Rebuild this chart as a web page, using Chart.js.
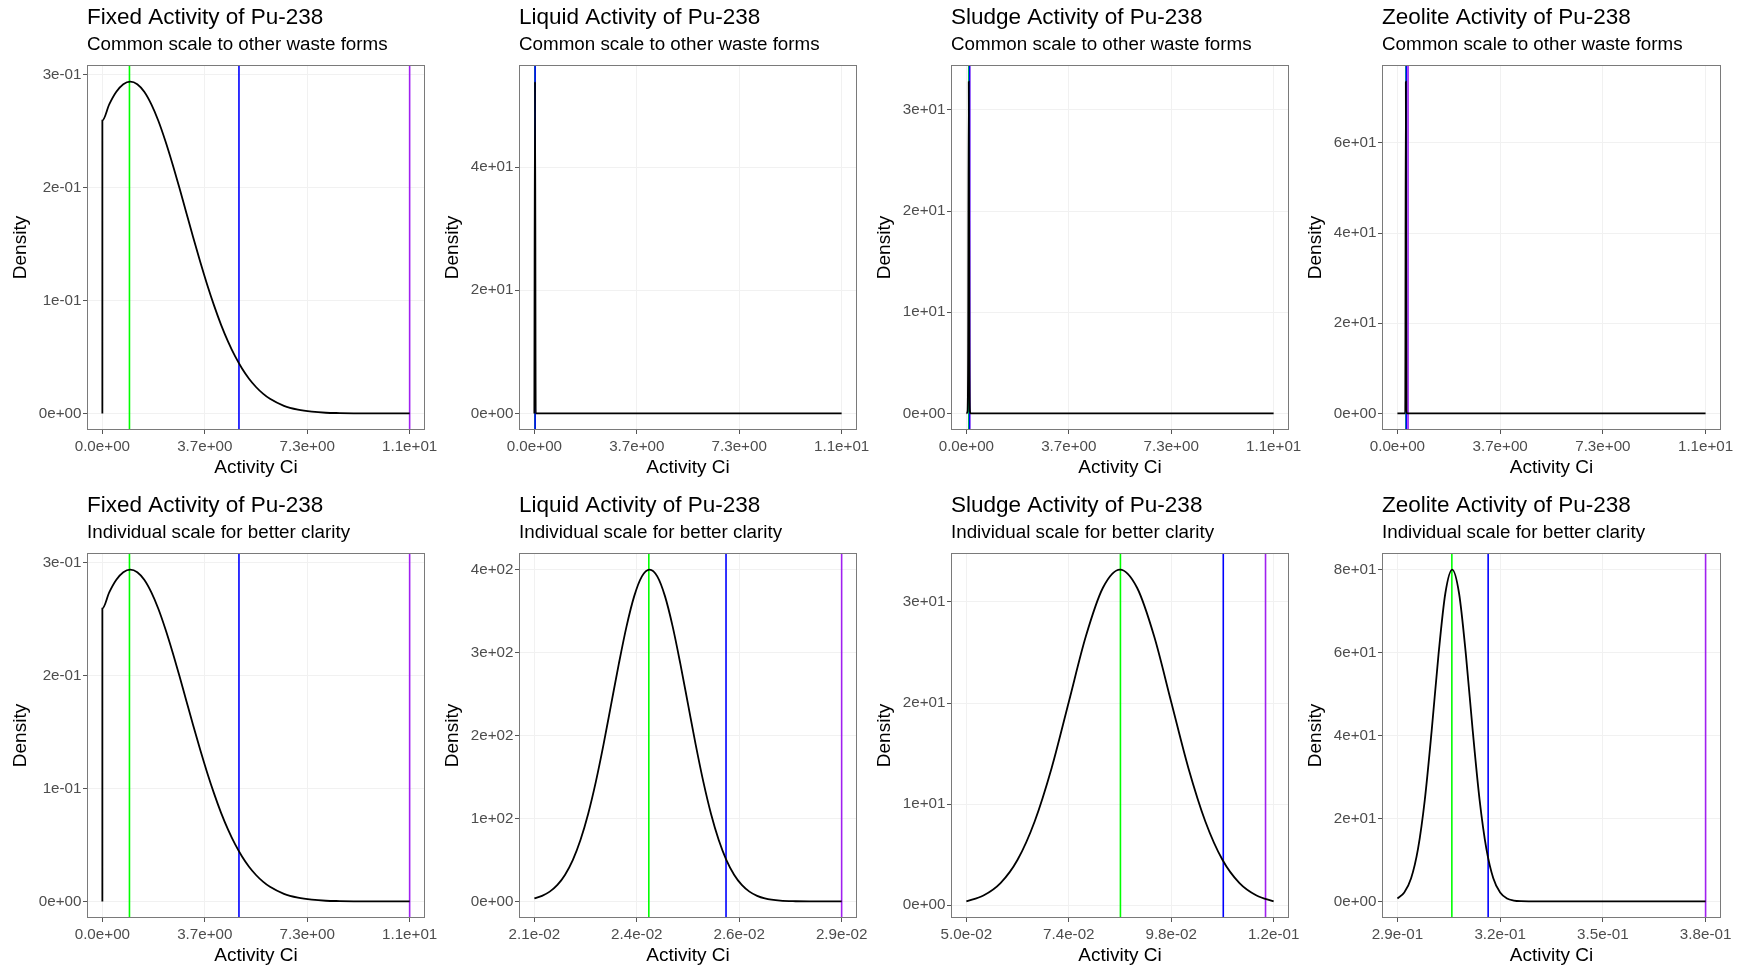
<!DOCTYPE html>
<html>
<head>
<meta charset="utf-8">
<script src="https://cdn.jsdelivr.net/npm/chart.js@4.4.0/dist/chart.umd.min.js"></script>
<style>
html,body{margin:0;padding:0;background:#ffffff;width:1738px;height:967px;overflow:hidden;}
canvas{position:absolute;}
</style>
</head>
<body>
<script>
// ---------------- data ----------------
const SUB_COMMON = 'Common scale to other waste forms';
const SUB_INDIV = 'Individual scale for better clarity';
const titles = ['Fixed Activity of Pu-238','Liquid Activity of Pu-238','Sludge Activity of Pu-238','Zeolite Activity of Pu-238'];

// Fixed waste form density (same curve on both scales)
const fixedX = [0, 0, 0.25, 0.5, 0.75, 1, 1.25, 1.5, 1.75, 2, 2.25, 2.5, 2.75, 3, 3.25, 3.5, 3.75, 4, 4.25, 4.5, 4.75, 5, 5.25, 5.5, 5.75, 6, 6.5, 7, 7.5, 8, 8.5, 9, 10, 11];
const fixedY = [0, 0.2595, 0.274, 0.285, 0.2917, 0.294, 0.2917, 0.285, 0.274, 0.2595, 0.2418, 0.2219, 0.2005, 0.1783, 0.1561, 0.1346, 0.1143, 0.0955, 0.0785, 0.0636, 0.0507, 0.0398, 0.0307, 0.0234, 0.0175, 0.0129, 0.0067, 0.0033, 0.0015, 0.0006, 0.0003, 0.0001, 0, 0];

// Individual-scale densities
const liquidX = [0.0210, 0.0212, 0.0214, 0.0216, 0.0218, 0.0220, 0.0222, 0.0224, 0.0226, 0.0228, 0.0230, 0.0232, 0.0234, 0.0236, 0.0238, 0.0240, 0.0242, 0.0244, 0.0246, 0.0248, 0.0250, 0.0252, 0.0254, 0.0256, 0.0258, 0.0260, 0.0262, 0.0264, 0.0266, 0.0268, 0.0270, 0.0274, 0.0278, 0.0282, 0.0290];
const liquidY = [3.7, 6.7, 11.8, 19.9, 32.2, 49.8, 74.0, 105.4, 144.1, 189.0, 237.8, 286.6, 331.6, 368.0, 391.8, 400, 391.8, 368.0, 331.6, 286.6, 237.8, 189.0, 144.1, 105.4, 74.0, 49.8, 32.2, 19.9, 11.8, 6.7, 3.7, 1.0, 0.2, 0.03, 0];

const sludgeX = [0.050, 0.054, 0.058, 0.062, 0.066, 0.070, 0.074, 0.078, 0.082, 0.086, 0.090, 0.094, 0.098, 0.102, 0.106, 0.110, 0.114, 0.118, 0.122];
const sludgeY = [0.37, 0.95, 2.18, 4.49, 8.28, 13.6, 20.1, 26.6, 31.4, 33.2, 31.4, 26.6, 20.1, 13.6, 8.28, 4.49, 2.18, 0.95, 0.37];

const zeoliteX = [0.290, 0.292, 0.294, 0.296, 0.298, 0.300, 0.302, 0.304, 0.306, 0.308, 0.310, 0.312, 0.314, 0.316, 0.318, 0.320, 0.322, 0.324, 0.326, 0.330, 0.340, 0.350, 0.360, 0.370, 0.380];
const zeoliteY = [0.70, 2.13, 5.58, 12.6, 24.5, 41.1, 59.5, 74.3, 80, 74.3, 59.5, 41.1, 24.5, 12.6, 5.58, 2.13, 0.70, 0.2, 0.05, 0.01, 0, 0, 0, 0, 0];

// Common-scale densities (evaluated on the shared 0..11 grid)
const liquidCommonX = [0, 0.024, 0.048, 11];
const liquidCommonY = [0, 53.9, 0, 0];
const sludgeCommonX = [0, 0.043, 0.0645, 0.086, 0.1075, 0.129, 0.1505, 11];
const sludgeCommonY = [0, 0.2, 6.6, 32.8, 6.9, 0.2, 0, 0];
const zeoliteCommonX = [0, 0.2795, 0.301, 0.3225, 0.344, 11];
const zeoliteCommonY = [0, 0.02, 73.6, 0.7, 0, 0];

// Reference lines (green, blue, purple)
const fixedLines = [0.97, 4.89, 11.0];
const liquidLines = [0.02398, 0.02599, 0.0290];
const sludgeLines = [0.0861, 0.1102, 0.1201];
const zeoliteLines = [0.3059, 0.3165, 0.3800];

// Tick values and labels
const commonXTicks = [0, 3.6667, 7.3333, 11];
const commonXLabels = ['0.0e+00', '3.7e+00', '7.3e+00', '1.1e+01'];
const fixedYTicks = [0, 0.1, 0.2, 0.3];
const fixedYLabels = ['0e+00', '1e-01', '2e-01', '3e-01'];
const liquidCommonYTicks = [0, 20, 40];
const liquidCommonYLabels = ['0e+00', '2e+01', '4e+01'];
const sludgeYTicks = [0, 10, 20, 30];
const sludgeYLabels = ['0e+00', '1e+01', '2e+01', '3e+01'];
const zeoliteCommonYTicks = [0, 20, 40, 60];
const zeoliteCommonYLabels = ['0e+00', '2e+01', '4e+01', '6e+01'];
const liquidXTicks = [0.021, 0.023667, 0.026333, 0.029];
const liquidXLabels = ['2.1e-02', '2.4e-02', '2.6e-02', '2.9e-02'];
const liquidYTicks = [0, 100, 200, 300, 400];
const liquidYLabels = ['0e+00', '1e+02', '2e+02', '3e+02', '4e+02'];
const sludgeXTicks = [0.05, 0.074, 0.098, 0.122];
const sludgeXLabels = ['5.0e-02', '7.4e-02', '9.8e-02', '1.2e-01'];
const zeoliteXTicks = [0.29, 0.32, 0.35, 0.38];
const zeoliteXLabels = ['2.9e-01', '3.2e-01', '3.5e-01', '3.8e-01'];
const zeoliteYTicks = [0, 20, 40, 60, 80];
const zeoliteYLabels = ['0e+00', '2e+01', '4e+01', '6e+01', '8e+01'];

// ---------------- layout / style ----------------
const FONT = '"Liberation Sans", Arial, Helvetica, sans-serif';
const LINE_COLORS = ['#00ff00', '#0000ff', '#a020f0'];
const DRAW_ORDER = [1, 0, 2]; // blue drawn above green, green above purple
const PLOT_L = [87, 519, 951, 1382];
const PLOT_R = [425, 857, 1289, 1721];
const PLOT_T = [65, 553];
const PLOT_B = [430, 918];
const Y_AXIS_W = 85, X_AXIS_H = 50, HEAD_H = 65, PAD_R = 40;

const panels = [
  {col:0,row:0,sub:SUB_COMMON,xs:fixedX,ys:fixedY,lines:fixedLines,xt:commonXTicks,xl:commonXLabels,yt:fixedYTicks,yl:fixedYLabels},
  {col:1,row:0,sub:SUB_COMMON,xs:liquidCommonX,ys:liquidCommonY,lines:liquidLines,xt:commonXTicks,xl:commonXLabels,yt:liquidCommonYTicks,yl:liquidCommonYLabels},
  {col:2,row:0,sub:SUB_COMMON,xs:sludgeCommonX,ys:sludgeCommonY,lines:sludgeLines,xt:commonXTicks,xl:commonXLabels,yt:sludgeYTicks,yl:sludgeYLabels},
  {col:3,row:0,sub:SUB_COMMON,xs:zeoliteCommonX,ys:zeoliteCommonY,lines:zeoliteLines,xt:commonXTicks,xl:commonXLabels,yt:zeoliteCommonYTicks,yl:zeoliteCommonYLabels},
  {col:0,row:1,sub:SUB_INDIV,xs:fixedX,ys:fixedY,lines:fixedLines,xt:commonXTicks,xl:commonXLabels,yt:fixedYTicks,yl:fixedYLabels},
  {col:1,row:1,sub:SUB_INDIV,xs:liquidX,ys:liquidY,lines:liquidLines,xt:liquidXTicks,xl:liquidXLabels,yt:liquidYTicks,yl:liquidYLabels},
  {col:2,row:1,sub:SUB_INDIV,xs:sludgeX,ys:sludgeY,lines:sludgeLines,xt:sludgeXTicks,xl:sludgeXLabels,yt:sludgeYTicks,yl:sludgeYLabels},
  {col:3,row:1,sub:SUB_INDIV,xs:zeoliteX,ys:zeoliteY,lines:zeoliteLines,xt:zeoliteXTicks,xl:zeoliteXLabels,yt:zeoliteYTicks,yl:zeoliteYLabels}
];

const framePlugin = {
  id: 'frame',
  afterDatasetsDraw(chart) {
    const a = chart.chartArea, ctx = chart.ctx;
    ctx.save();
    ctx.strokeStyle = '#7a7a7a';
    ctx.lineWidth = 1;
    ctx.strokeRect(Math.round(a.left) + 0.5, Math.round(a.top) + 0.5, Math.round(a.right - a.left) - 1, Math.round(a.bottom - a.top) - 1);
    ctx.restore();
  }
};

function expanded(vals) {
  const lo = Math.min(...vals), hi = Math.max(...vals);
  const e = (hi - lo) * 0.05;
  return [lo - e, hi + e];
}

panels.forEach(p => {
  const cl = PLOT_L[p.col] - Y_AXIS_W;
  const ct = PLOT_T[p.row] - HEAD_H;
  const cw = PLOT_R[p.col] - cl + PAD_R;
  const ch = PLOT_B[p.row] + X_AXIS_H - ct;
  const cv = document.createElement('canvas');
  cv.width = cw; cv.height = ch;
  cv.style.left = cl + 'px'; cv.style.top = ct + 'px';
  cv.style.width = cw + 'px'; cv.style.height = ch + 'px';
  document.body.appendChild(cv);

  const [xMin, xMax] = expanded(p.xs.concat(p.lines));
  const [yMin, yMax] = expanded(p.ys);

  const curve = p.xs.map((x, i) => ({x: x, y: p.ys[i]}));
  // dataset 0 is drawn last (on top)
  const datasets = [{
    label: 'Density',
    data: curve,
    borderColor: '#000000',
    borderWidth: 1.8,
    pointRadius: 0,
    cubicInterpolationMode: 'monotone'
  }];
  DRAW_ORDER.forEach(i => {
    const v = p.lines[i];
    datasets.push({
      label: 'ref' + i,
      data: [{x: v, y: yMin}, {x: v, y: yMax}],
      borderColor: LINE_COLORS[i],
      borderWidth: 1.6,
      pointRadius: 0,
      tension: 0
    });
  });

  new Chart(cv.getContext('2d'), {
    type: 'line',
    data: {datasets: datasets},
    options: {
      responsive: false,
      animation: false,
      devicePixelRatio: 1,
      events: [],
      layout: {padding: {left: 0, right: PAD_R, top: 0, bottom: 0}},
      plugins: {
        legend: {display: false},
        tooltip: {enabled: false},
        title: {
          display: true, text: titles[p.col], align: 'start', fullSize: false, color: '#000000',
          font: {family: FONT, size: 22.5, weight: 'normal', lineHeight: 1.2},
          padding: {top: 4.74, bottom: 1.5}
        },
        subtitle: {
          display: true, text: p.sub, align: 'start', fullSize: false, color: '#000000',
          font: {family: FONT, size: 18.8, weight: 'normal', lineHeight: 1.2},
          padding: {top: 0, bottom: 9.2}
        }
      },
      scales: {
        x: {
          type: 'linear', min: xMin, max: xMax,
          afterFit: s => { s.height = X_AXIS_H; },
          afterBuildTicks: s => { s.ticks = p.xt.map(v => ({value: v})); },
          ticks: {
            autoSkip: false, maxRotation: 0, minRotation: 0, padding: 3.6,
            color: '#4d4d4d', font: {family: FONT, size: 15.2, lineHeight: 1.2},
            callback: (v, i) => p.xl[i]
          },
          grid: {color: '#f1f1f1', lineWidth: 1, drawTicks: true, tickLength: 4, tickColor: '#555555', tickWidth: 1},
          border: {display: false},
          title: {
            display: true, text: 'Activity Ci', color: '#000000',
            font: {family: FONT, size: 19, lineHeight: 1.2},
            padding: {top: 0, bottom: 0.8}
          }
        },
        y: {
          type: 'linear', min: yMin, max: yMax,
          afterFit: s => { s.width = Y_AXIS_W; },
          afterBuildTicks: s => { s.ticks = p.yt.map(v => ({value: v})); },
          ticks: {
            autoSkip: false, padding: 1.5,
            color: '#4d4d4d', font: {family: FONT, size: 15.2, lineHeight: 1.2},
            callback: (v, i) => p.yl[i]
          },
          grid: {color: '#f1f1f1', lineWidth: 1, drawTicks: true, tickLength: 4, tickColor: '#555555', tickWidth: 1},
          border: {display: false},
          title: {
            display: true, text: 'Density', color: '#000000',
            font: {family: FONT, size: 19, lineHeight: 1.2},
            padding: {top: 7.5, bottom: 0}
          }
        }
      }
    },
    plugins: [framePlugin]
  });
});
</script>
</body>
</html>
